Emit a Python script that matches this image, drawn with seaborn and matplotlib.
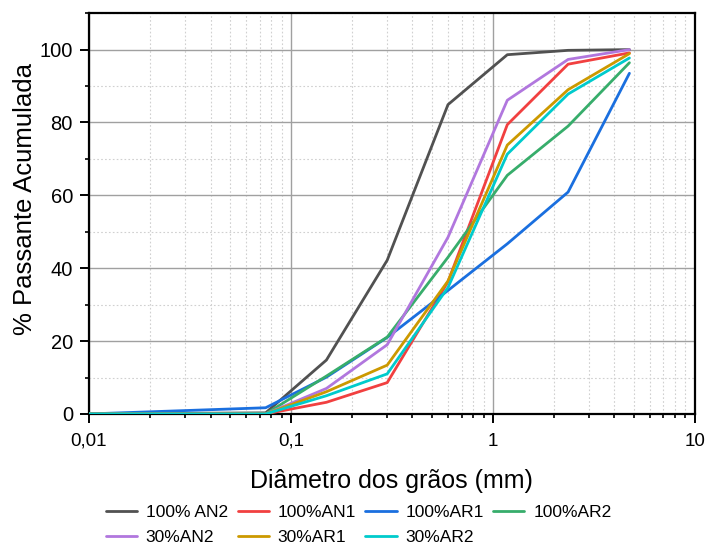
import numpy as np
import pandas as pd
import matplotlib
matplotlib.use("Agg")
import matplotlib.pyplot as plt
from matplotlib.ticker import LogLocator, FixedLocator, FixedFormatter, MultipleLocator, NullFormatter
import seaborn as sns

# sieve openings (mm)
diametro = [0.01, 0.075, 0.15, 0.3, 0.6, 1.18, 2.36, 4.75]

# % passing for each mix
an2_100 = [0, 0.3, 14.8, 42.2, 84.9, 98.6, 99.8, 100]
an1_100 = [0, 0, 3.2, 8.6, 36.3, 79.4, 96.0, 99.1]
ar1_100 = [0, 1.7, 10.1, 21.0, 33.9, 46.7, 60.9, 93.5]
ar2_100 = [0, 0, 10.4, 21.1, 43.0, 65.5, 79.0, 96.4]
an2_30 = [0, 0, 7.0, 19.0, 48.5, 86.1, 97.3, 100]
ar1_30 = [0, 0, 6.1, 13.4, 36.5, 73.8, 89.0, 98.9]
ar2_30 = [0, 0, 5.0, 11.0, 34.7, 71.3, 87.8, 97.7]

series = ["100% AN2", "100%AN1", "100%AR1", "100%AR2", "30%AN2", "30%AR1", "30%AR2"]
values = [an2_100, an1_100, ar1_100, ar2_100, an2_30, ar1_30, ar2_30]
cores = ["#515151", "#F14040", "#1A6FDF", "#37AD6B", "#B177DE", "#CC9900", "#00CBCC"]

rows = []
for nome, vals in zip(series, values):
    for d, v in zip(diametro, vals):
        rows.append({"diametro": d, "passante": v, "mistura": nome})
df = pd.DataFrame(rows)

sns.set_style("white")
plt.rcParams["font.family"] = ["Liberation Sans", "DejaVu Sans"]
plt.rcParams["text.color"] = "black"
plt.rcParams["axes.labelcolor"] = "black"
plt.rcParams["xtick.color"] = "black"
plt.rcParams["ytick.color"] = "black"

fig = plt.figure(figsize=(7.06, 5.49), dpi=100)
ax = fig.add_axes([0.126, 0.246, 0.858, 0.730])

sns.lineplot(data=df, x="diametro", y="passante", hue="mistura", hue_order=series,
             palette=cores, linewidth=2, sort=False, ax=ax, zorder=3)

ax.set_xscale("log")
ax.set_xlim(0.01, 10)
ax.set_ylim(0, 110)

ax.xaxis.set_major_locator(FixedLocator([0.01, 0.1, 1, 10]))
ax.xaxis.set_major_formatter(FixedFormatter(["0,01", "0,1", "1", "10"]))
ax.xaxis.set_minor_locator(LogLocator(base=10, subs=np.arange(2, 10)))
ax.xaxis.set_minor_formatter(NullFormatter())
ax.yaxis.set_major_locator(FixedLocator([0, 20, 40, 60, 80, 100]))
ax.yaxis.set_minor_locator(MultipleLocator(10))

ax.grid(which="major", color="#a0a0a0", linewidth=1, linestyle="-")
ax.grid(which="minor", color="#d0d0d0", linewidth=0.8, linestyle=(0, (1.5, 2)))
ax.set_axisbelow(True)

for s in ax.spines.values():
    s.set_color("black")
    s.set_linewidth(1.6)

ax.tick_params(which="major", direction="out", length=6.5, width=1.4, pad=5,
               bottom=True, left=True, top=False, right=False, color="black",
               labelcolor="black")
ax.tick_params(axis="x", which="major", labelsize=13.5, pad=7)
ax.tick_params(axis="y", which="major", labelsize=14.5)
ax.tick_params(which="minor", direction="out", length=3.2, width=1.2,
               bottom=True, left=True, top=False, right=False, color="black")

ax.set_xlabel("Diâmetro dos grãos (mm)", fontsize=18, labelpad=14, color="black")
ax.set_ylabel("% Passante Acumulada", fontsize=18.5, color="black")
ax.yaxis.set_label_coords(-0.086, 0.537)

# legend filled row by row, like the original
handles, labels = ax.get_legend_handles_labels()
ordem = [0, 4, 1, 5, 2, 6, 3]
ax.get_legend().remove()
fig.legend([handles[i] for i in ordem], [labels[i] for i in ordem],
           loc="center", bbox_to_anchor=(0.508, 0.044), ncol=4,
           frameon=False, fontsize=12.5, handlelength=1.8, handletextpad=0.5,
           columnspacing=0.55, labelspacing=0.6, borderaxespad=0, borderpad=0,
           labelcolor="black")

fig.savefig("out.png", dpi=100)
